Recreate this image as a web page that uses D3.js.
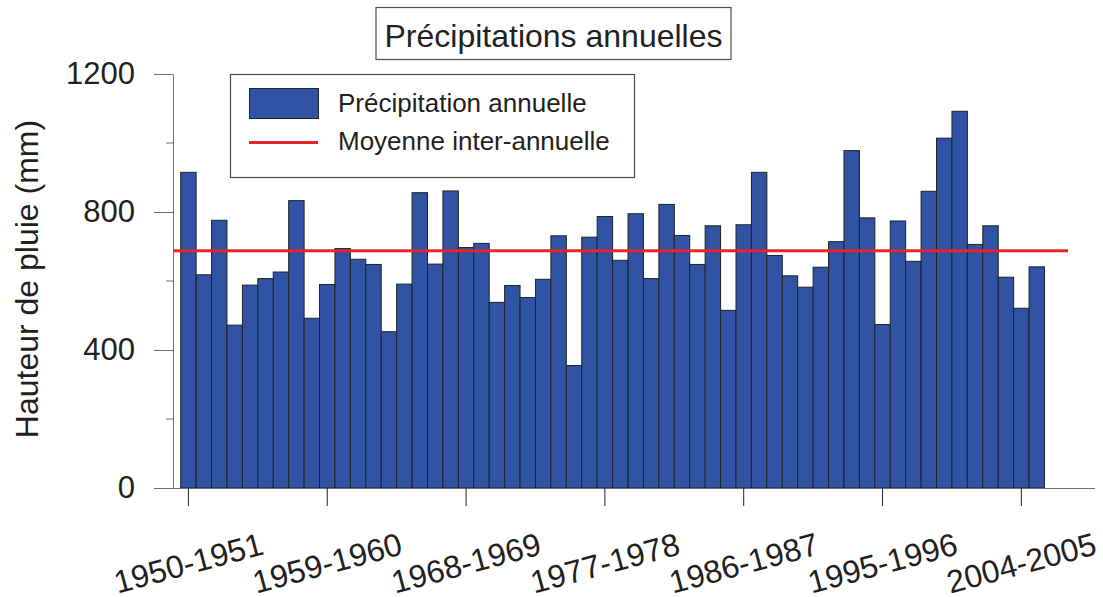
<!DOCTYPE html>
<html>
<head>
<meta charset="utf-8">
<script src="https://cdn.jsdelivr.net/npm/d3@7"></script>
<style>
  body { margin: 0; background: #fff; }
  svg { font-family: "Liberation Sans", Arial, sans-serif; }
  text { fill: #231f20; }
</style>
</head>
<body>
<svg width="1103" height="597"></svg>
<script>
// saisons hydrologiques
var seasons = ["1950-1951","1951-1952","1952-1953","1953-1954","1954-1955","1955-1956","1956-1957","1957-1958",
  "1958-1959","1959-1960","1960-1961","1961-1962","1962-1963","1963-1964","1964-1965","1965-1966","1966-1967",
  "1967-1968","1968-1969","1969-1970","1970-1971","1971-1972","1972-1973","1973-1974","1974-1975","1975-1976",
  "1976-1977","1977-1978","1978-1979","1979-1980","1980-1981","1981-1982","1982-1983","1983-1984","1984-1985",
  "1985-1986","1986-1987","1987-1988","1988-1989","1989-1990","1990-1991","1991-1992","1992-1993","1993-1994",
  "1994-1995","1995-1996","1996-1997","1997-1998","1998-1999","1999-2000","2000-2001","2001-2002","2002-2003",
  "2003-2004","2004-2005","2005-2006"];
// precipitation annuelle (mm)
var rain = [915,618,776,472,588,607,626,833,492,590,694,663,648,453,591,856,649,861,697,709,538,587,552,605,
  731,355,727,787,660,795,607,822,732,648,760,515,763,915,674,615,582,640,714,978,783,474,774,657,860,1014,
  1092,706,760,611,521,641];
var meanRain = 688;
var yTicks = [0, 400, 800, 1200];
var yMinor = [200, 600, 1000];
var xTickLabels = ["1950-1951","1959-1960","1968-1969","1977-1978","1986-1987","1995-1996","2004-2005"];

var svg = d3.select("svg");

var x = d3.scaleBand()
  .domain(seasons)
  .range([180.7, 1044.5])
  .paddingInner(0).paddingOuter(0);

var y = d3.scaleLinear()
  .domain([0, 1200])
  .range([488, 74]);

// barres
svg.append("g")
  .selectAll("rect")
  .data(rain)
  .enter().append("rect")
    .attr("x", function(d, i) { return x(seasons[i]); })
    .attr("y", function(d) { return y(d); })
    .attr("width", x.bandwidth())
    .attr("height", function(d) { return y(0) - y(d); })
    .attr("fill", "#3053a3")
    .attr("stroke", "#1f2226")
    .attr("stroke-width", 1);

// moyenne
svg.append("line")
  .attr("x1", 173).attr("x2", 1068)
  .attr("y1", y(meanRain)).attr("y2", y(meanRain))
  .attr("stroke", "#e8232a")
  .attr("stroke-width", 3);

// axe y
var yAxis = svg.append("g")
  .attr("transform", "translate(173,0)")
  .call(d3.axisLeft(y).tickValues(yTicks).tickFormat(d3.format("d"))
    .tickSize(19).tickPadding(19).tickSizeOuter(0));
yAxis.select(".domain").attr("stroke", "#6d6e71");
yAxis.selectAll(".tick line").attr("stroke", "#6d6e71");
yAxis.selectAll(".tick text")
  .style("font-size", "31px")
  .style("font-family", "Liberation Sans, Arial, sans-serif")
  .attr("fill", "#231f20");

svg.append("g")
  .selectAll("line")
  .data(yMinor)
  .enter().append("line")
    .attr("x1", 166).attr("x2", 173)
    .attr("y1", function(d) { return y(d); })
    .attr("y2", function(d) { return y(d); })
    .attr("stroke", "#6d6e71");

// axe x
svg.append("line")
  .attr("x1", 154).attr("x2", 1095)
  .attr("y1", 488.5).attr("y2", 488.5)
  .attr("stroke", "#6d6e71");

var xAxis = svg.append("g")
  .attr("transform", "translate(0,488)")
  .call(d3.axisBottom(x).tickValues(xTickLabels).tickSize(18).tickSizeOuter(0));
xAxis.select(".domain").remove();
xAxis.selectAll(".tick line").attr("stroke", "#231f20");
xAxis.selectAll(".tick text")
  .style("font-size", "32px")
  .style("font-family", "Liberation Sans, Arial, sans-serif")
  .attr("fill", "#231f20")
  .attr("y", 0)
  .attr("dy", "0.35em")
  .attr("text-anchor", "middle")
  .attr("transform", "translate(0,75) rotate(-15)");

// titre axe y
svg.append("text")
  .attr("transform", "translate(38,279) rotate(-90)")
  .attr("text-anchor", "middle")
  .style("font-size", "32px")
  .text("Hauteur de pluie (mm)");

// titre
svg.append("rect")
  .attr("x", 376).attr("y", 7.5)
  .attr("width", 355).attr("height", 52)
  .attr("fill", "#fff")
  .attr("stroke", "#4d4d4f")
  .attr("stroke-width", 1.2);
svg.append("text")
  .attr("x", 553.5).attr("y", 47)
  .attr("text-anchor", "middle")
  .style("font-size", "32px")
  .text("Précipitations annuelles");

// légende
var leg = svg.append("g");
leg.append("rect")
  .attr("x", 230.5).attr("y", 74.5)
  .attr("width", 404).attr("height", 103)
  .attr("fill", "#fff")
  .attr("stroke", "#4d4d4f")
  .attr("stroke-width", 1.2);
leg.append("rect")
  .attr("x", 249.5).attr("y", 88.5)
  .attr("width", 69).attr("height", 30)
  .attr("fill", "#3053a3")
  .attr("stroke", "#1f2226");
leg.append("line")
  .attr("x1", 249).attr("x2", 318)
  .attr("y1", 142.5).attr("y2", 142.5)
  .attr("stroke", "#e8232a")
  .attr("stroke-width", 3);
leg.append("text")
  .attr("x", 338).attr("y", 112)
  .style("font-size", "26px")
  .text("Précipitation annuelle");
leg.append("text")
  .attr("x", 338).attr("y", 150)
  .style("font-size", "26px")
  .text("Moyenne inter-annuelle");
</script>
</body>
</html>
